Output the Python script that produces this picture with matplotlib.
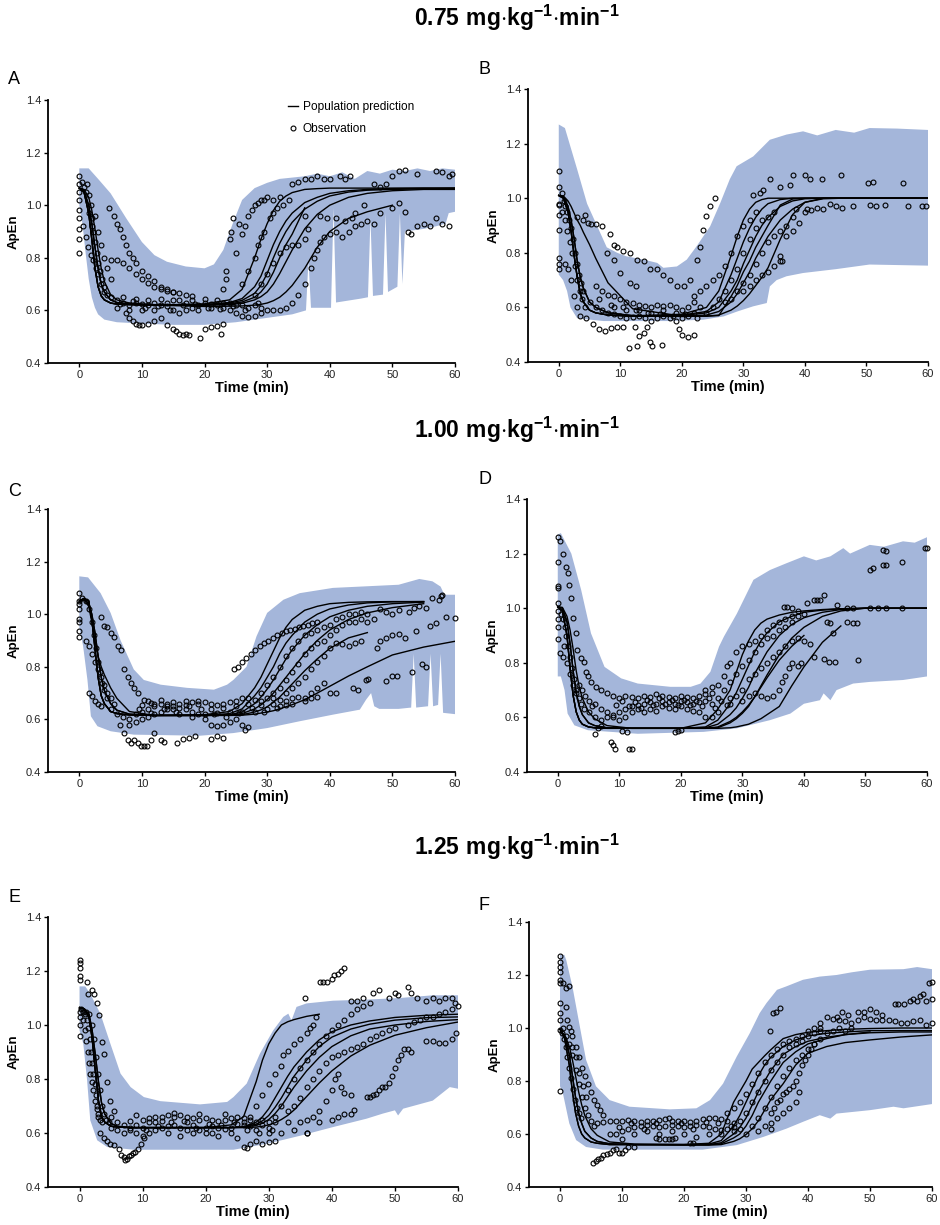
import numpy as np
import matplotlib.pyplot as plt
from matplotlib.lines import Line2D

plt.rcParams['font.family'] = ['Liberation Sans', 'DejaVu Sans']
plt.rcParams['mathtext.fontset'] = 'custom'
plt.rcParams['mathtext.rm'] = 'Liberation Sans'
plt.rcParams['mathtext.bf'] = 'Liberation Sans:bold'

nan = np.nan

# time grids for the population prediction curves
curve_t_drop = [0, 0.75, 1.5, 2, 2.5, 3, 3.5, 4, 5, 6, 8, 12]
curve_t_rise = [20, 24, 26, 28, 29, 30, 31, 32, 33, 34, 36, 38, 40, 43, 46, 50, 55, 60]

dose_titles = ['0.75', '1.00', '1.25']

# ---------------- panel A ----------------
a_hi_t = [0, 1.5, 3, 5, 7.5, 10, 12, 14, 17, 20, 21.5, 23, 24.5, 26, 28, 30, 32, 34, 36, 38,
          40, 42, 44, 46, 48, 50, 52, 54, 56, 58, 60]
a_hi = [1.14, 1.14, 1.1, 1.045, 0.95, 0.86, 0.81, 0.785, 0.767, 0.76, 0.775, 0.83, 0.93, 1.02,
        1.065, 1.085, 1.1, 1.105, 1.11, 1.12, 1.11, 1.125, 1.1, 1.13, 1.12, 1.135, 1.13, 1.14,
        1.13, 1.14, 1.135]
a_lo_t = [0, 0.5, 1, 1.5, 2, 2.5, 3, 4, 6, 10, 15, 20, 25, 28, 31, 34, 36.2, 36.6, 37.0, 40.2,
          40.6, 41.0, 45, 46.1, 46.5, 46.9, 48.5, 48.9, 49.3, 50.8, 51.2, 51.6, 52.0, 55, 57,
          58.5, 59, 60]
a_lo = [1.0, 0.93, 0.82, 0.72, 0.65, 0.61, 0.585, 0.565, 0.555, 0.55, 0.545, 0.545, 0.555, 0.565,
        0.575, 0.585, 0.6, 0.79, 0.61, 0.61, 0.99, 0.63, 0.645, 0.65, 0.95, 0.655, 0.66, 0.97,
        0.67, 0.69, 0.97, 0.7, 0.9, 0.91, 0.92, 0.93, 0.97, 0.975]
a_drop_fast = [1.065, 1.05, 0.97, 0.87, 0.76, 0.69, 0.655, 0.64, 0.628, 0.624, 0.622, 0.62]
a_drop_med = [1.065, 1.055, 1.0, 0.93, 0.84, 0.76, 0.7, 0.67, 0.64, 0.63, 0.624, 0.62]
a_drop_slow = [1.065, 1.06, 1.03, 0.98, 0.91, 0.83, 0.76, 0.71, 0.66, 0.64, 0.628, 0.622]
a_rise = [
    [0.625, 0.64, 0.68, 0.8, 0.87, 0.93, 0.98, 1.015, 1.035, 1.048, 1.06, 1.063, 1.065, 1.065, 1.065, 1.065, 1.065, 1.065],
    [0.622, 0.63, 0.645, 0.69, 0.73, 0.79, 0.85, 0.9, 0.94, 0.97, 1.01, 1.03, 1.045, 1.055, 1.06, 1.063, 1.065, 1.065],
    [0.622, 0.628, 0.638, 0.665, 0.695, 0.74, 0.8, 0.855, 0.9, 0.935, 0.985, 1.015, 1.035, 1.05, 1.057, 1.06, 1.062, 1.064],
    [0.62, 0.625, 0.632, 0.65, 0.67, 0.7, 0.745, 0.8, 0.85, 0.89, 0.99, nan, nan, nan, nan, nan, nan, nan],
    [0.62, 0.622, 0.627, 0.64, 0.652, 0.67, 0.7, 0.74, 0.785, 0.83, 0.91, 0.965, 1.0, 1.03, 1.045, 1.055, 1.06, 1.06],
    [0.615, 0.616, 0.617, 0.62, 0.623, 0.628, 0.637, 0.65, 0.67, 0.695, 0.76, 0.84, 0.9, 0.95, 0.975, 1.0, nan, nan],
]
a_drops = [a_drop_fast, a_drop_fast, a_drop_med, a_drop_med, a_drop_slow, a_drop_fast]
a_obs = [
    (0, 1.11), (0, 1.08), (0, 1.05), (0, 1.02), (0, 0.98), (0, 0.95), (0, 0.91), (0, 0.87), (0, 0.82),
    (0.5, 1.09), (0.8, 1.07), (1, 1.05), (1.2, 1.08), (1.5, 1.04), (1.8, 1.0), (2, 0.95), (2.2, 0.9),
    (2.5, 0.86), (2.8, 0.82), (3, 0.78), (3.3, 0.75), (3.6, 0.72), (4, 0.69),
    (0.6, 0.92), (1, 0.88), (1.4, 0.84), (1.8, 0.81), (2.2, 0.79), (2.6, 0.76), (3, 0.74), (3.5, 0.7),
    (4, 0.67), (4.5, 0.66), (1.5, 0.97), (2, 0.92), (2.5, 0.96), (3, 0.9), (3.5, 0.85), (4, 0.8),
    (4.5, 0.76), (5, 0.72),
    (4.8, 0.99), (5.5, 0.96), (6, 0.93), (6.5, 0.91), (7, 0.88), (7.5, 0.85), (8, 0.82), (8.5, 0.8),
    (9, 0.78), (10, 0.75), (11, 0.73), (12, 0.71), (13, 0.69), (14, 0.68), (15, 0.67), (16, 0.665),
    (17, 0.66), (18, 0.655),
    (5, 0.79), (6, 0.79), (7, 0.78), (8, 0.76), (9, 0.74), (10, 0.72), (11, 0.705), (12, 0.69),
    (13, 0.68), (14, 0.675), (15, 0.67),
    (7.5, 0.59), (8, 0.57), (8.5, 0.56), (9, 0.55), (9.5, 0.545), (10, 0.545), (11, 0.55), (12, 0.56),
    (13, 0.57), (14, 0.545), (15, 0.53), (15.5, 0.52), (16, 0.51), (16.5, 0.505), (17, 0.51),
    (17.5, 0.505), (19.2, 0.495), (20, 0.53), (21, 0.535), (22, 0.54), (22.7, 0.51), (23, 0.55),
    (5, 0.65), (6, 0.64), (7, 0.63), (8, 0.62), (9, 0.63), (10, 0.625), (11, 0.62), (12, 0.63),
    (13, 0.62), (14, 0.615), (15, 0.6), (16, 0.59), (17, 0.6), (18, 0.61), (19, 0.62), (20, 0.63),
    (21, 0.625), (22, 0.62), (23, 0.61), (24, 0.6), (25, 0.59), (26, 0.58), (27, 0.575), (28, 0.58),
    (29, 0.59), (30, 0.6), (31, 0.6),
    (6, 0.61), (8, 0.6), (10, 0.6), (12, 0.6), (14, 0.63), (16, 0.64), (18, 0.64), (20, 0.645),
    (22, 0.64), (24, 0.63), (26, 0.62), (28, 0.62),
    (7, 0.65), (9, 0.645), (11, 0.64), (13, 0.645), (15, 0.64), (17, 0.63), (19, 0.6), (21, 0.61),
    (23, 0.63), (25, 0.62), (27, 0.61), (29, 0.61),
    (6.5, 0.625), (8.5, 0.635), (10.5, 0.61), (12.5, 0.615), (14.5, 0.6), (16.5, 0.62), (18.5, 0.625),
    (20.5, 0.61), (22.5, 0.605), (24.5, 0.615), (26.5, 0.6), (28.5, 0.63),
    (23, 0.68), (23.5, 0.72), (23.5, 0.75), (24, 0.87), (24.2, 0.9), (24.5, 0.95), (25, 0.82),
    (25.5, 0.93), (26, 0.89), (26.5, 0.92), (27, 0.96), (27.5, 0.98), (28, 1.0), (28.5, 1.01),
    (29, 1.02), (29.5, 1.02), (30, 1.03), (31, 1.02), (32, 1.03),
    (26, 0.7), (27, 0.75), (28, 0.8), (28.5, 0.85), (29, 0.88), (29.5, 0.9), (30.5, 0.95), (31, 0.97),
    (31.5, 0.99), (32.5, 1.0), (33.5, 1.02),
    (28, 0.66), (29, 0.7), (30, 0.74), (31, 0.78), (32, 0.82), (33, 0.84), (34, 0.85), (35, 0.85),
    (36, 0.87), (36.5, 0.91), (36, 0.96),
    (32, 0.6), (33, 0.61), (34, 0.63), (35, 0.66), (36, 0.7), (37, 0.76), (37.5, 0.8), (38, 0.83),
    (38.5, 0.86), (39, 0.88), (40, 0.89), (41, 0.9), (42, 0.88), (43, 0.9), (44, 0.92), (45, 0.93),
    (46, 0.94), (47, 0.93),
    (34, 1.08), (35, 1.09), (36, 1.1), (37, 1.1), (38, 1.11), (39, 1.1), (40, 1.1), (41.7, 1.11),
    (42.5, 1.1), (43.3, 1.11), (47, 1.08), (48, 1.07), (49, 1.08), (50, 1.11), (51, 1.13),
    (52, 1.135), (54, 1.12), (57, 1.13), (58, 1.125), (59, 1.11), (59.5, 1.12),
    (38.5, 0.96), (39.5, 0.95), (41, 0.95), (42.5, 0.94), (43.5, 0.95), (44, 0.97), (45.5, 1.0),
    (48, 0.97), (50, 0.99), (51, 1.01), (52, 0.975),
    (52.5, 0.9), (53, 0.89), (54, 0.92), (55, 0.93), (56, 0.92), (57, 0.95), (58, 0.93), (59, 0.92),
]

# ---------------- panel B ----------------
b_hi_t = [0, 1, 3, 4.6, 6.2, 7.8, 9.5, 11, 13.8, 16, 17, 19.2, 20.8, 22.4, 24.6, 26.2, 27.8, 28.9,
          31.6, 34.3, 37, 39.7, 42, 45, 48, 50.5, 55, 60]
b_hi = [1.27, 1.257, 1.105, 0.98, 0.9, 0.82, 0.8, 0.787, 0.775, 0.763, 0.745, 0.75, 0.775, 0.824,
        0.897, 0.98, 1.07, 1.117, 1.153, 1.214, 1.233, 1.245, 1.23, 1.25, 1.24, 1.257, 1.255, 1.25]
b_lo_t = [0, 0.7, 1.35, 1.9, 3, 7.3, 18, 23.5, 26.8, 29, 31.6, 33.8, 34.3, 35.4, 37, 39.7, 45,
          50.5, 60]
b_lo = [0.72, 0.7, 0.66, 0.6, 0.56, 0.55, 0.55, 0.555, 0.567, 0.585, 0.604, 0.616, 0.677, 0.7,
        0.714, 0.726, 0.74, 0.757, 0.753]
b_drop_fast = [1.01, 1.0, 0.95, 0.88, 0.79, 0.71, 0.65, 0.62, 0.59, 0.58, 0.572, 0.568]
b_drop_med = [1.01, 1.005, 0.97, 0.92, 0.85, 0.77, 0.71, 0.67, 0.62, 0.6, 0.58, 0.57]
b_drop_lin = [1.01, 1.008, 0.99, 0.97, 0.945, 0.92, 0.9, 0.875, 0.83, 0.78, 0.69, 0.595]
b_rise = [
    [0.575, 0.6, 0.66, 0.79, 0.86, 0.92, 0.96, 0.985, 0.995, 1.0, 1.0, 1.0, 1.0, 1.0, 1.0, 1.0, 1.0, 1.0],
    [0.572, 0.585, 0.62, 0.72, 0.78, 0.84, 0.89, 0.93, 0.96, 0.98, 0.995, 1.0, 1.0, 1.0, 1.0, 1.0, 1.0, 1.0],
    [0.57, 0.58, 0.6, 0.66, 0.7, 0.76, 0.81, 0.86, 0.9, 0.93, 0.97, 0.99, 0.998, 1.0, 1.0, 1.0, 1.0, 1.0],
    [0.568, 0.572, 0.585, 0.62, 0.65, 0.69, 0.73, 0.78, 0.82, 0.86, 0.92, 0.96, 0.985, 0.998, 1.0, 1.0, 1.0, 1.0],
    [0.567, 0.568, 0.572, 0.59, 0.605, 0.625, 0.65, 0.68, 0.71, 0.745, 0.85, 0.94, 0.985, 1.0, 1.0, 1.0, 1.0, 1.0],
    [0.567, 0.568, 0.57, 0.64, 0.68, 0.73, 0.77, 0.82, 0.86, 0.9, 0.975, 0.997, 1.0, 1.0, 1.0, 1.0, 1.0, 1.0],
]
b_drops = [b_drop_fast, b_drop_med, b_drop_fast, b_drop_lin, b_drop_med, b_drop_fast]
b_obs = [
    (0, 1.1), (0, 1.04), (0, 0.98), (0, 0.975), (0, 0.94), (0, 0.885), (0, 0.78), (0, 0.76), (0, 0.74),
    (0.5, 1.02), (0.8, 0.99), (1, 0.97), (1.3, 0.95), (1.6, 0.92), (2, 0.89), (2.3, 0.85), (2.6, 0.8),
    (3, 0.76), (3.3, 0.72), (3.6, 0.69), (4, 0.66),
    (0.6, 0.95), (1, 0.92), (1.4, 0.88), (1.8, 0.84), (2.2, 0.8), (2.6, 0.75), (3, 0.7), (3.4, 0.66),
    (3.8, 0.63), (4.2, 0.6),
    (1, 0.76), (1.5, 0.74), (2, 0.7), (2.5, 0.64), (3, 0.6), (3.5, 0.57), (4.5, 0.56), (5.5, 0.54),
    (6.5, 0.52), (7.5, 0.515), (8.5, 0.525), (9.5, 0.53), (10.5, 0.53),
    (3, 0.93), (4, 0.92), (4.3, 0.94), (4.8, 0.91), (5.2, 0.905), (6, 0.905), (7, 0.897), (8.4, 0.87),
    (8.9, 0.83), (9.5, 0.82), (10.5, 0.805), (11.6, 0.8), (12.7, 0.775), (13.8, 0.77), (14.9, 0.74),
    (16, 0.74), (17, 0.72), (18.1, 0.7), (19.2, 0.68), (20.3, 0.677), (21.4, 0.7), (22.4, 0.775),
    (23, 0.82), (23.5, 0.885), (24, 0.935), (24.6, 0.97), (25.4, 1.0),
    (7.8, 0.8), (8.9, 0.775), (10, 0.726), (11.6, 0.69), (12.5, 0.68),
    (11.4, 0.45), (12.4, 0.53), (12.7, 0.457), (13, 0.494), (13.8, 0.505), (14.3, 0.53), (14.9, 0.475),
    (15.2, 0.457), (16.8, 0.463),
    (5, 0.62), (6, 0.6), (7, 0.59), (8, 0.58), (9, 0.575), (10, 0.57), (11, 0.56), (12, 0.565),
    (13, 0.57), (14, 0.56), (15, 0.55), (16, 0.56), (17, 0.57), (18, 0.56), (19, 0.55), (20, 0.56),
    (21, 0.57), (22, 0.58), (23, 0.6),
    (6, 0.68), (7, 0.66), (8, 0.645), (9, 0.64), (10, 0.63), (11, 0.62), (12, 0.615), (13, 0.61),
    (14, 0.605), (15, 0.6), (16, 0.61), (17, 0.605), (18, 0.61), (19, 0.6), (20, 0.59), (21, 0.6),
    (22, 0.62),
    (9, 0.6), (11, 0.59), (13, 0.59), (15, 0.58), (17, 0.59), (19, 0.58), (20, 0.5), (21, 0.49),
    (19.5, 0.52), (22, 0.5),
    (6.5, 0.63), (8.5, 0.61), (10.5, 0.6), (12.5, 0.59), (14.5, 0.58), (16.5, 0.575), (18.5, 0.57),
    (20.5, 0.575), (22.5, 0.56),
    (22, 0.64), (23, 0.66), (24, 0.68), (25, 0.7), (26, 0.72), (27, 0.75), (28, 0.8), (29, 0.86),
    (30, 0.9), (31, 0.92), (32, 0.95),
    (24, 0.58), (25, 0.6), (26, 0.63), (27, 0.66), (28, 0.7), (29, 0.74), (30, 0.8), (31, 0.85),
    (32, 0.89), (33, 0.92), (34, 0.93), (35, 0.95),
    (27, 0.62), (28, 0.63), (29, 0.66), (30, 0.69), (31, 0.72), (32, 0.76), (33, 0.8), (34, 0.84),
    (35, 0.86), (36, 0.88), (37, 0.9), (38, 0.93), (38.6, 0.96),
    (30, 0.66), (31, 0.68), (32, 0.7), (33, 0.72), (34, 0.73), (35, 0.75), (36, 0.77), (37, 0.86),
    (38, 0.88), (39, 0.91), (40, 0.95),
    (35.9, 0.787), (36.2, 0.77),
    (31.6, 1.013), (32.7, 1.02), (33.2, 1.03), (34.3, 1.07), (35.9, 1.04), (37.6, 1.05), (38.1, 1.086),
    (40, 1.086), (40.8, 1.07), (42.7, 1.07), (45.9, 1.086), (50.3, 1.055), (51.1, 1.06), (56, 1.055),
    (40.3, 0.96), (41, 0.955), (42, 0.965), (43, 0.96), (44, 0.98), (45, 0.97), (46, 0.965),
    (47.8, 0.97), (50.5, 0.975), (51.5, 0.97), (53, 0.975), (56.8, 0.97), (59, 0.97), (59.7, 0.97),
]

# ---------------- panel C ----------------
c_hi_t = [0, 1.4, 3.4, 5, 6.6, 8.7, 10.3, 13, 17.2, 21.5, 23.6, 24.6, 26.7, 28.3, 30, 32.6, 35.2,
          40.5, 45.8, 51, 54.3, 56.4, 57.7, 58.3, 60]
c_hi = [1.144, 1.14, 1.08, 1.005, 0.9, 0.79, 0.75, 0.732, 0.72, 0.713, 0.732, 0.75, 0.8, 0.916,
        1.005, 1.055, 1.08, 1.1, 1.106, 1.112, 1.134, 1.125, 1.105, 1.074, 1.074]
c_lo_t = [0, 0.6, 1.3, 1.85, 2.9, 5, 8.7, 19.3, 24.6, 30, 35.2, 40.5, 44.8, 45.8, 46.6, 47.1, 47.9,
          51, 53.0, 53.4, 53.8, 55.7, 56.1, 56.5, 57.3, 57.7, 58.1, 60]
c_lo = [0.95, 0.88, 0.75, 0.612, 0.574, 0.555, 0.542, 0.538, 0.548, 0.567, 0.593, 0.618, 0.637,
        0.675, 0.7, 0.65, 0.64, 0.64, 0.645, 0.85, 0.645, 0.65, 0.85, 0.65, 0.655, 0.85, 0.625, 0.62]
c_drop_fast = [1.05, 1.06, 1.05, 0.98, 0.87, 0.76, 0.69, 0.66, 0.63, 0.622, 0.617, 0.615]
c_drop_med = [1.045, 1.058, 1.04, 1.0, 0.93, 0.84, 0.76, 0.71, 0.66, 0.635, 0.62, 0.615]
c_drop_lin = [1.05, 1.055, 1.03, 0.97, 0.9, 0.84, 0.8, 0.77, 0.72, 0.68, 0.63, 0.615]
c_rise = [
    [0.618, 0.63, 0.66, 0.72, 0.76, 0.81, 0.86, 0.91, 0.95, 0.98, 1.015, 1.03, 1.04, 1.045, 1.047, 1.048, 1.048, nan],
    [0.616, 0.622, 0.64, 0.69, 0.72, 0.76, 0.8, 0.85, 0.89, 0.92, 0.97, 1.0, 1.02, 1.035, 1.043, 1.047, 1.048, nan],
    [0.615, 0.618, 0.628, 0.66, 0.685, 0.715, 0.75, 0.79, 0.83, 0.865, 0.92, 0.96, 0.99, 1.015, 1.03, 1.04, 1.046, nan],
    [0.615, 0.617, 0.622, 0.64, 0.655, 0.675, 0.7, 0.73, 0.76, 0.79, 0.85, 0.9, 0.94, 0.98, 1.005, 1.025, 1.04, nan],
    [0.615, 0.616, 0.618, 0.628, 0.636, 0.648, 0.665, 0.685, 0.71, 0.735, 0.785, 0.83, 0.87, 0.91, 0.93, nan, nan, nan],
    [0.615, 0.615, 0.616, 0.62, 0.624, 0.628, 0.633, 0.64, 0.648, 0.656, 0.675, 0.7, 0.726, 0.765, 0.8, 0.845, 0.875, 0.897],
]
c_drops = [c_drop_fast, c_drop_med, c_drop_fast, c_drop_lin, c_drop_med, c_drop_fast]
c_obs = [
    (0, 1.08), (0, 1.05), (0, 1.04), (0, 1.02), (0, 0.98), (0, 0.97), (0, 0.935), (0, 0.915),
    (0.5, 1.06), (1, 1.05), (1.5, 1.02), (2, 0.97), (2.3, 0.92), (2.6, 0.87), (3, 0.82), (3.3, 0.78),
    (3.6, 0.74), (4, 0.71), (4.5, 0.68),
    (1, 0.9), (1.5, 0.88), (2, 0.85), (2.5, 0.82), (3, 0.79), (3.5, 0.76), (4, 0.73), (4.5, 0.7),
    (5, 0.68), (5.5, 0.66), (1.5, 0.7), (2, 0.69), (2.5, 0.67), (3, 0.66), (3.5, 0.65),
    (3.4, 0.99), (4, 0.955), (4.5, 0.95), (5, 0.93), (5.6, 0.915), (6.1, 0.88), (6.6, 0.865),
    (7.2, 0.79), (7.7, 0.76), (8.2, 0.74), (8.7, 0.72), (9.3, 0.7), (10.3, 0.675), (11.4, 0.663),
    (6.5, 0.58), (7.2, 0.55), (7.7, 0.52), (8.2, 0.51), (8.7, 0.52), (9.3, 0.51), (9.8, 0.5),
    (10.3, 0.5), (10.8, 0.5), (11.4, 0.52), (12, 0.55),
    (13, 0.52), (13.5, 0.515), (15.6, 0.51), (16.5, 0.525), (17.5, 0.53), (18.5, 0.535), (21, 0.525),
    (22, 0.535), (23, 0.53),
    (5, 0.64), (6, 0.62), (7, 0.61), (8, 0.6), (9, 0.62), (10, 0.63), (11, 0.64), (12, 0.65),
    (13, 0.66), (14, 0.66), (15, 0.665), (16, 0.66), (17, 0.67), (18, 0.665), (19, 0.66), (20, 0.665),
    (21, 0.66), (22, 0.655), (23, 0.66), (24, 0.665), (25, 0.67), (26, 0.68), (27, 0.68), (28, 0.675),
    (29, 0.67), (30, 0.68), (31, 0.68), (32, 0.675), (33, 0.67), (34, 0.68), (35, 0.685), (36, 0.68),
    (37, 0.68), (38, 0.685),
    (8, 0.58), (9, 0.59), (10, 0.6), (11, 0.61), (12, 0.62), (13, 0.63), (14, 0.64), (15, 0.64),
    (16, 0.645), (17, 0.64), (18, 0.63), (19, 0.62), (20, 0.6), (21, 0.58), (22, 0.575), (23, 0.58),
    (24, 0.59), (25, 0.6), (26, 0.58), (26.5, 0.56), (27, 0.57),
    (10, 0.655), (12, 0.66), (14, 0.65), (16, 0.62), (18, 0.61), (20, 0.62), (22, 0.625), (24, 0.63),
    (26, 0.63), (28, 0.63), (30, 0.64), (32, 0.65), (34, 0.66), (36, 0.67),
    (11, 0.67), (13, 0.675), (15, 0.65), (17, 0.655), (19, 0.67), (21, 0.64), (23, 0.645), (25, 0.65),
    (27, 0.66), (29, 0.655), (31, 0.66), (33, 0.655),
    (9.5, 0.64), (11.5, 0.625), (13.5, 0.64), (15.5, 0.63), (17.5, 0.65), (19.5, 0.64), (21.5, 0.62),
    (23.5, 0.61), (25.5, 0.625), (27.5, 0.645), (29.5, 0.63), (31.5, 0.645),
    (24.7, 0.79), (25.3, 0.8), (26, 0.82), (26.7, 0.835), (27.4, 0.85), (28.1, 0.865), (28.8, 0.88),
    (29.5, 0.89), (30.2, 0.9), (30.9, 0.91), (31.6, 0.92), (32.3, 0.93), (33, 0.935), (33.7, 0.94),
    (34.4, 0.945), (35.1, 0.95), (35.8, 0.955), (36.5, 0.96), (37.2, 0.965), (38, 0.97),
    (29, 0.7), (30, 0.73), (31, 0.76), (32, 0.8), (33, 0.84), (34, 0.87), (35, 0.9), (36, 0.92),
    (37, 0.93), (38, 0.94), (39, 0.95), (40, 0.96), (41, 0.98), (42, 0.99), (43, 1.0),
    (31, 0.7), (32, 0.72), (33, 0.75), (34, 0.78), (35, 0.81), (36, 0.85), (37, 0.87), (38, 0.89),
    (39, 0.9), (40, 0.92), (41, 0.94), (42, 0.96), (43, 0.97), (44, 0.97), (45, 0.98), (46, 0.97),
    (33, 0.7), (34, 0.72), (35, 0.74), (36, 0.76), (37, 0.79), (38, 0.82), (39, 0.84), (40, 0.87),
    (41, 0.89), (42, 0.885), (43, 0.88), (44, 0.89), (45, 0.9),
    (37, 0.7), (38, 0.72), (39, 0.74), (40, 0.7), (41, 0.7), (43.7, 0.72), (44.5, 0.713), (45.8, 0.75),
    (46.1, 0.753), (49, 0.745), (50, 0.764), (50.8, 0.764), (53.2, 0.78), (54.8, 0.81), (55.4, 0.8),
    (44, 1.0), (45, 1.01), (46, 1.0), (47, 0.98), (47.5, 0.87), (48, 0.9), (49, 0.91), (50, 0.92),
    (51, 0.925), (52, 0.91), (53.8, 0.935), (56, 0.955), (57, 0.965), (58.5, 0.99), (60, 0.985),
    (48, 1.02), (49, 1.01), (50, 1.0), (51, 1.017), (52.7, 1.01), (53.5, 1.025), (54.3, 1.03),
    (55.4, 1.025), (56.4, 1.06), (57.5, 1.055), (57.7, 1.07), (58, 1.074),
]

# ---------------- panel D ----------------
d_hi_t = [0, 0.5, 2.2, 3.8, 5.4, 7.6, 10.3, 13, 18.3, 21.6, 23.2, 24.8, 26.2, 27, 29.1, 31.8, 34.5,
          37.2, 40, 42, 44.3, 46.4, 47.5, 50.7, 53, 56.1, 58, 60]
d_hi = [1.27, 1.275, 1.2, 1.067, 0.908, 0.785, 0.743, 0.724, 0.712, 0.712, 0.724, 0.767, 0.859,
        0.896, 0.98, 1.104, 1.14, 1.165, 1.19, 1.175, 1.19, 1.22, 1.2, 1.232, 1.225, 1.245, 1.24, 1.26]
d_lo_t = [0, 0.5, 1.1, 1.6, 2.7, 4.9, 13, 23.7, 29.1, 34.5, 37.8, 40, 42.6, 43.2, 44.3, 45.3, 48,
          50.7, 56.1, 60]
d_lo = [0.75, 0.75, 0.7, 0.614, 0.571, 0.553, 0.54, 0.547, 0.56, 0.59, 0.614, 0.65, 0.663, 0.688,
        0.663, 0.7, 0.724, 0.73, 0.737, 0.75]
d_drop_fast = [1.005, 0.99, 0.9, 0.78, 0.68, 0.62, 0.59, 0.575, 0.565, 0.562, 0.56, 0.56]
d_drop_med = [1.005, 1.0, 0.95, 0.87, 0.77, 0.69, 0.64, 0.61, 0.58, 0.57, 0.562, 0.56]
d_drop_slow = [1.005, 1.003, 0.97, 0.92, 0.85, 0.77, 0.71, 0.67, 0.62, 0.595, 0.57, 0.56]
d_rise = [
    [0.56, 0.58, 0.63, 0.7, 0.765, 0.83, 0.88, 0.92, 0.945, 0.96, 0.975, 0.985, 0.99, 0.995, 0.998, 1.0, 1.0, 1.0],
    [0.56, 0.565, 0.59, 0.65, 0.69, 0.74, 0.79, 0.84, 0.88, 0.91, 0.95, 0.97, 0.985, 0.993, 0.998, 1.0, 1.0, 1.0],
    [0.56, 0.562, 0.575, 0.61, 0.635, 0.67, 0.71, 0.76, 0.8, 0.84, 0.9, 0.94, 0.965, 0.985, 0.995, 1.0, 1.0, 1.0],
    [0.56, 0.56, 0.565, 0.585, 0.6, 0.62, 0.645, 0.675, 0.71, 0.745, 0.81, 0.86, 0.9, nan, nan, nan, nan, nan],
    [0.56, 0.56, 0.56, 0.562, 0.565, 0.57, 0.575, 0.585, 0.595, 0.61, 0.64, 0.715, 0.785, 0.875, 0.935, nan, nan, nan],
    [0.56, 0.56, 0.562, 0.58, 0.595, 0.615, 0.64, 0.675, 0.715, 0.755, 0.83, 0.89, 0.93, 0.97, 0.99, 1.0, 1.0, 1.0],
]
d_drops = [d_drop_fast, d_drop_med, d_drop_fast, d_drop_slow, d_drop_med, d_drop_fast]
d_obs = [
    (0, 1.26), (0, 1.17), (0, 1.08), (0, 1.073), (0, 1.02), (0, 0.99), (0, 0.96), (0, 0.93), (0, 0.886),
    (0.3, 1.245), (0.8, 1.2), (1.35, 1.15), (1.6, 1.13), (1.9, 1.085), (2.2, 1.037), (2.4, 0.963),
    (3, 0.908), (3.2, 0.847), (3.8, 0.816), (4.3, 0.804), (4.6, 0.767), (4.9, 0.75), (5.4, 0.73),
    (6.2, 0.712), (0.3, 0.835), (0.8, 0.82),
    (0.5, 0.98), (0.8, 0.96), (1.1, 0.93), (1.4, 0.9), (1.7, 0.86), (2, 0.82), (2.3, 0.78), (2.6, 0.74),
    (3, 0.7), (3.4, 0.67), (3.8, 0.65), (4.2, 0.63),
    (1, 0.86), (1.5, 0.8), (2, 0.76), (2.5, 0.72), (3, 0.69), (3.5, 0.72), (4, 0.7), (4.5, 0.68),
    (5, 0.66), (5.5, 0.64),
    (6, 0.54), (6.5, 0.56), (7, 0.57), (8.6, 0.51), (9, 0.5), (9.3, 0.485), (10.5, 0.55), (11.3, 0.545),
    (11.6, 0.484), (12, 0.484), (19, 0.545), (19.5, 0.55), (20, 0.555),
    (5, 0.62), (6, 0.6), (7, 0.59), (8, 0.6), (9, 0.61), (10, 0.62), (11, 0.63), (12, 0.64),
    (13, 0.645), (14, 0.65), (15, 0.655), (16, 0.65), (17, 0.66), (18, 0.655), (19, 0.65), (20, 0.66),
    (21, 0.655), (22, 0.65), (23, 0.655), (24, 0.66), (25, 0.65),
    (7, 0.7), (8, 0.69), (9, 0.68), (10, 0.67), (11, 0.68), (12, 0.675), (13, 0.67), (14, 0.68),
    (15, 0.675), (16, 0.685), (17, 0.68), (18, 0.675), (19, 0.67), (20, 0.68), (21, 0.675), (22, 0.67),
    (23, 0.68), (24, 0.685), (25, 0.69),
    (6, 0.65), (7, 0.63), (8, 0.62), (9, 0.6), (10, 0.59), (11, 0.6), (12, 0.62), (13, 0.63),
    (14, 0.62), (15, 0.63), (16, 0.625), (17, 0.64), (18, 0.635), (19, 0.63), (20, 0.64), (21, 0.63),
    (22, 0.625), (23, 0.62), (24, 0.6), (25, 0.6), (26, 0.62),
    (10.5, 0.66), (12.5, 0.655), (14.5, 0.665), (16.5, 0.67), (18.5, 0.665), (20.5, 0.665),
    (22.5, 0.66), (24.5, 0.67), (26.5, 0.66), (28, 0.67),
    (9.5, 0.645), (11.5, 0.64), (13.5, 0.635), (15.5, 0.645), (17.5, 0.65), (19.5, 0.645),
    (21.5, 0.645), (23.5, 0.64), (25.5, 0.635), (27.5, 0.645),
    (24, 0.7), (25, 0.71), (26, 0.72), (27, 0.75), (27.5, 0.79), (28, 0.8), (29, 0.84), (30, 0.86),
    (31, 0.87), (32, 0.88), (33, 0.9), (34, 0.92), (35, 0.94), (36, 0.95), (37, 0.96), (38, 0.97),
    (26, 0.67), (27, 0.7), (28, 0.73), (29, 0.76), (30, 0.79), (31, 0.81), (32, 0.84), (33, 0.87),
    (34, 0.89), (35, 0.9), (36, 0.92), (37, 0.93), (38, 0.95), (39, 0.97), (40, 0.98),
    (28, 0.65), (29, 0.68), (30, 0.7), (31, 0.74), (32, 0.76), (33, 0.78), (34, 0.8), (35, 0.82),
    (36, 0.84), (37, 0.86), (38, 0.88), (39, 0.89), (40, 0.88), (41, 0.87),
    (30, 0.66), (31, 0.68), (32, 0.69), (33, 0.68), (34, 0.67), (35, 0.68), (36, 0.7), (36.5, 0.73),
    (37, 0.75), (37.5, 0.78), (38, 0.8), (39, 0.79), (39.5, 0.8),
    (41.6, 0.82), (43.2, 0.815), (44, 0.803), (45, 0.803), (48.8, 0.81),
    (36.7, 1.006), (37.2, 1.006), (38, 1.0), (39, 0.99), (40.5, 1.018), (41.6, 1.03), (42.2, 1.03),
    (42.6, 1.03), (43.2, 1.048),
    (43.7, 0.95), (44.3, 0.945), (44.8, 0.908), (47, 0.95), (48, 0.945), (48.6, 0.945),
    (45.3, 1.01), (47, 1.0), (48, 1.0), (50.7, 1.0), (52, 1.0), (53.4, 1.0), (55.9, 1.002),
    (50.7, 1.14), (51.3, 1.147), (52.9, 1.214), (53.4, 1.208), (52.9, 1.16), (53.4, 1.16),
    (55.9, 1.17), (59.7, 1.22), (60, 1.22),
]

# ---------------- panel E ----------------
e_hi_t = [0, 0.9, 1.7, 3.3, 4.9, 6.5, 8.1, 10.2, 12.8, 19.1, 23.4, 24.4, 26.5, 28.6, 30.7, 32.3,
          33.1, 33.6, 34.4, 36, 40.2, 45.5, 50.8, 56, 60]
e_hi = [1.143, 1.143, 1.116, 1.042, 0.93, 0.82, 0.77, 0.733, 0.718, 0.706, 0.715, 0.733, 0.783,
        0.894, 0.98, 1.03, 1.042, 1.017, 1.067, 1.08, 1.09, 1.094, 1.1, 1.11, 1.11]
e_lo_t = [0, 0.6, 1.2, 1.7, 2.8, 4.4, 8.6, 24.4, 29.7, 35, 40.2, 45.5, 48.1, 50, 50.5, 51.3, 56,
          58.7, 60]
e_lo = [0.98, 0.93, 0.795, 0.647, 0.573, 0.548, 0.538, 0.538, 0.56, 0.59, 0.622, 0.653, 0.672,
        0.684, 0.665, 0.69, 0.72, 0.77, 0.764]
e_drop_fast = [1.065, 1.06, 1.03, 0.95, 0.83, 0.72, 0.66, 0.64, 0.625, 0.622, 0.62, 0.62]
e_drop_med = [1.06, 1.06, 1.04, 0.98, 0.89, 0.79, 0.71, 0.67, 0.635, 0.625, 0.62, 0.62]
e_rise = [
    [0.62, 0.63, 0.66, 0.79, 0.87, 0.93, 0.97, 1.0, 1.012, 1.02, 1.032, 1.04, nan, nan, nan, nan, nan, nan],
    [0.62, 0.62, 0.623, 0.64, 0.66, 0.69, 0.73, 0.77, 0.81, 0.845, 0.9, 0.945, 0.975, 1.0, 1.015, 1.028, 1.036, 1.04],
    [0.62, 0.62, 0.622, 0.633, 0.645, 0.665, 0.695, 0.73, 0.77, 0.81, 0.87, 0.92, 0.955, 0.985, 1.003, 1.018, 1.027, 1.03],
    [0.62, 0.62, 0.621, 0.628, 0.636, 0.65, 0.672, 0.7, 0.735, 0.77, 0.83, 0.88, 0.92, 0.96, 0.985, 1.0, 1.013, 1.02],
    [0.62, 0.62, 0.62, 0.622, 0.625, 0.63, 0.638, 0.65, 0.665, 0.685, 0.735, 0.785, 0.83, 0.885, 0.925, 0.962, 0.99, 1.011],
]
e_drops = [e_drop_fast, e_drop_med, e_drop_fast, e_drop_med, e_drop_fast]
e_obs = [
    (0, 1.24), (0, 1.23), (0, 1.212), (0, 1.18), (0, 1.165), (0, 1.05), (0, 1.03), (0, 1.0), (0, 0.96),
    (1.2, 1.16), (1.3, 1.116), (2, 1.128), (2.3, 1.116), (2.8, 1.08), (3.1, 1.036), (3.6, 0.937),
    (3.8, 0.894), (4.4, 0.79), (4.9, 0.72),
    (0.3, 1.06), (0.6, 1.05), (0.9, 1.04), (1.2, 1.02), (1.4, 0.99), (1.6, 0.95), (1.8, 0.9), (2, 0.86),
    (2.2, 0.82), (2.4, 0.78), (2.6, 0.74), (2.8, 0.7), (3, 0.67), (3.2, 0.65),
    (0.5, 1.02), (0.8, 0.98), (1, 0.94), (1.3, 0.9), (1.5, 0.86), (1.7, 0.82), (1.9, 0.79), (2.1, 0.76),
    (2.4, 0.72), (2.7, 0.69), (3, 0.66), (3.5, 0.64),
    (1, 1.05), (1.5, 1.04), (2, 1.0), (2.3, 0.95), (2.6, 0.88), (2.9, 0.82), (3.2, 0.76), (3.5, 0.7),
    (3.8, 0.67), (4.2, 0.65), (4.6, 0.64), (5, 0.66), (5.5, 0.68),
    (3.3, 0.6), (3.8, 0.58), (4.4, 0.57), (4.9, 0.56), (5.5, 0.555), (6.2, 0.54), (6.6, 0.52), (7, 0.51),
    (7.2, 0.5), (7.5, 0.505), (7.8, 0.515), (8.1, 0.52), (8.4, 0.525), (8.8, 0.53), (9.3, 0.54),
    (9.8, 0.56), (10.2, 0.58),
    (5, 0.62), (6, 0.61), (7, 0.6), (8, 0.61), (9, 0.63), (10, 0.65), (11, 0.655), (12, 0.66),
    (13, 0.66), (14, 0.665), (15, 0.66), (16, 0.665), (17, 0.66), (18, 0.655), (19, 0.65), (20, 0.655),
    (21, 0.65), (22, 0.645), (23, 0.65), (24, 0.655), (25, 0.66), (26, 0.655), (27, 0.65), (28, 0.64),
    (29, 0.63), (30, 0.62),
    (6, 0.64), (7, 0.63), (8, 0.62), (9, 0.6), (10, 0.59), (11, 0.6), (12, 0.61), (13, 0.62),
    (14, 0.625), (15, 0.63), (16, 0.62), (17, 0.61), (18, 0.6), (19, 0.61), (20, 0.62), (21, 0.625),
    (22, 0.62), (23, 0.615), (24, 0.6), (25, 0.58), (26, 0.55), (26.5, 0.545), (27, 0.56), (28, 0.57),
    (29, 0.56), (30, 0.565), (31, 0.57),
    (8, 0.645), (10, 0.62), (12, 0.64), (14, 0.6), (16, 0.59), (18, 0.63), (20, 0.6), (22, 0.59),
    (24, 0.62), (26, 0.63), (28, 0.61), (30, 0.6), (32, 0.6), (34, 0.61), (36, 0.6),
    (9, 0.665), (11, 0.64), (13, 0.645), (15, 0.675), (17, 0.64), (19, 0.67), (21, 0.6), (23, 0.67),
    (25, 0.635), (27, 0.625), (29, 0.65), (31, 0.64), (33, 0.64),
    (10.5, 0.61), (12.5, 0.625), (14.5, 0.64), (16.5, 0.645), (18.5, 0.62), (20.5, 0.635),
    (22.5, 0.63), (24.5, 0.64), (26.5, 0.61), (28.5, 0.6), (30.5, 0.61),
    (26, 0.64), (27, 0.66), (28, 0.7), (29, 0.74), (30, 0.78), (31, 0.82), (32, 0.85), (32.3, 0.89),
    (33, 0.905), (34, 0.93), (35, 0.95), (36, 0.97), (36.5, 0.99), (37, 1.0), (37.5, 1.03),
    (30, 0.64), (31, 0.66), (32, 0.7), (33, 0.76), (34, 0.8), (35, 0.84), (36, 0.87), (37, 0.9),
    (38, 0.93), (39, 0.96), (40, 0.98), (41, 1.0), (42, 1.02), (43, 1.04), (44, 1.06), (45, 1.07),
    (46, 1.08),
    (33, 0.68), (34, 0.7), (35, 0.73), (36, 0.77), (37, 0.8), (38, 0.83), (39, 0.86), (40, 0.88),
    (41, 0.89), (42, 0.9), (43, 0.91), (44, 0.92), (45, 0.93), (46, 0.95), (47, 0.96), (48, 0.97),
    (49, 0.98), (50, 0.99),
    (35, 0.64), (36, 0.65), (37, 0.66), (38, 0.68), (39, 0.72), (40, 0.76), (40.5, 0.8), (41, 0.82),
    (41.5, 0.77), (42, 0.75), (43, 0.74),
    (36, 0.6), (38, 0.64), (40, 0.65), (41, 0.66), (42, 0.67), (43, 0.67), (43.5, 0.685),
    (45.5, 0.735), (46, 0.735), (46.5, 0.74), (47, 0.745), (47.5, 0.76), (48, 0.77), (48.5, 0.77),
    (49, 0.785), (49.5, 0.81), (50, 0.84), (50.5, 0.87), (51, 0.89), (51.5, 0.91), (52, 0.91),
    (52.5, 0.9),
    (35.7, 1.1), (38.1, 1.16), (38.6, 1.16), (39.2, 1.16), (40, 1.17), (40.3, 1.185), (41, 1.19),
    (41.5, 1.2), (42, 1.21),
    (43, 1.09), (44, 1.09), (45, 1.1), (46.5, 1.12), (47.5, 1.13), (49, 1.1), (50, 1.12), (50.5, 1.11),
    (52, 1.14), (52.5, 1.12), (53.5, 1.1), (55, 1.09), (56, 1.1), (57, 1.09), (58, 1.1), (59, 1.1),
    (59.5, 1.08),
    (52, 1.0), (53, 1.01), (54, 1.02), (55, 1.03), (56, 1.03), (57, 1.04), (58, 1.05), (59, 1.06),
    (60, 1.07),
    (55, 0.94), (56, 0.94), (57, 0.935), (58, 0.935), (59, 0.95), (59.7, 0.97),
]

# ---------------- panel F ----------------
f_hi_t = [0, 0.7, 1, 2, 3.1, 4.2, 5.8, 8, 11.2, 17.7, 22, 24.2, 26.3, 28.5, 30.6, 32.2, 33.3, 35,
          36.5, 39.2, 41.9, 44.6, 47, 50, 55.4, 57.6, 60]
f_hi = [1.276, 1.276, 1.257, 1.157, 1.018, 0.88, 0.78, 0.728, 0.703, 0.693, 0.697, 0.728, 0.79,
        0.892, 0.98, 1.056, 1.094, 1.144, 1.157, 1.182, 1.194, 1.2, 1.21, 1.22, 1.222, 1.23, 1.222]
f_lo_t = [0, 0.4, 0.7, 1.5, 2.6, 4.2, 6.9, 23, 28.5, 32.8, 36.5, 39.2, 41.9, 43.6, 44.6, 50, 53.8,
          55.4, 60]
f_lo = [0.78, 0.76, 0.728, 0.64, 0.577, 0.551, 0.541, 0.541, 0.558, 0.589, 0.62, 0.646, 0.671,
        0.658, 0.677, 0.69, 0.703, 0.697, 0.713]
f_drop_fast = [0.995, 0.96, 0.86, 0.76, 0.68, 0.63, 0.6, 0.585, 0.57, 0.565, 0.56, 0.56]
f_drop_med = [0.995, 0.97, 0.9, 0.82, 0.74, 0.68, 0.64, 0.61, 0.585, 0.572, 0.563, 0.56]
f_drop_slow = [0.985, 0.975, 0.93, 0.88, 0.82, 0.76, 0.71, 0.67, 0.62, 0.595, 0.57, 0.562]
f_rise = [
    [0.56, 0.565, 0.6, 0.72, 0.76, 0.8, 0.845, 0.87, 0.895, 0.918, 0.96, 0.975, 0.984, 0.99, 0.995, 0.998, 1.0, 1.0],
    [0.56, 0.562, 0.575, 0.63, 0.67, 0.72, 0.77, 0.82, 0.86, 0.89, 0.93, 0.955, 0.97, 0.98, 0.985, 0.99, 0.99, 0.99],
    [0.56, 0.56, 0.567, 0.6, 0.625, 0.66, 0.71, 0.76, 0.8, 0.84, 0.9, 0.93, 0.95, 0.965, 0.975, 0.982, 0.985, 0.985],
    [0.56, 0.56, 0.563, 0.585, 0.6, 0.63, 0.67, 0.72, 0.76, 0.8, 0.87, 0.91, 0.94, 0.96, 0.975, 0.985, nan, nan],
    [0.558, 0.558, 0.56, 0.572, 0.582, 0.598, 0.62, 0.65, 0.69, 0.73, 0.79, 0.86, 0.905, 0.93, 0.945, 0.955, 0.966, 0.974],
]
f_drops = [f_drop_fast, f_drop_med, f_drop_fast, f_drop_slow, f_drop_med]
f_obs = [
    (0, 1.27), (0, 1.25), (0, 1.232), (0, 1.213), (0, 1.18), (0, 1.17), (0, 1.094), (0, 1.056),
    (0, 1.03), (0, 0.993), (0, 0.763),
    (0.5, 1.17), (1, 1.15), (1.5, 1.16), (1, 1.08), (1.2, 1.03), (1.5, 1.005), (1.8, 0.99), (2, 0.93),
    (2.6, 0.89), (3.1, 0.83), (3.7, 0.78), (4.2, 0.74),
    (0.3, 0.98), (0.6, 0.96), (0.9, 0.93), (1.2, 0.89), (1.5, 0.85), (1.8, 0.81), (2.1, 0.77),
    (2.4, 0.73), (2.7, 0.7), (3, 0.68), (3.4, 0.66),
    (0.5, 1.0), (1, 0.97), (1.5, 0.94), (2, 0.9), (2.5, 0.84), (3, 0.79), (3.5, 0.74), (4, 0.7),
    (4.5, 0.67), (5, 0.65), (5.5, 0.63),
    (2, 0.97), (2.5, 0.93), (3, 0.89), (3.5, 0.85), (4, 0.82), (4.5, 0.79), (5, 0.76), (5.5, 0.73),
    (6, 0.71), (6.5, 0.69), (7, 0.67),
    (5.4, 0.49), (5.8, 0.5), (6.2, 0.505), (6.6, 0.51), (7, 0.52), (7.5, 0.525), (8, 0.53), (8.5, 0.54),
    (9, 0.545), (9.5, 0.53), (10, 0.53), (10.5, 0.54), (11, 0.55), (12, 0.55),
    (15.5, 0.585), (16, 0.58), (17, 0.58), (17.5, 0.58), (18, 0.58), (18.5, 0.585), (21, 0.565),
    (21.5, 0.565),
    (6, 0.64), (7, 0.645), (8, 0.65), (9, 0.648), (10, 0.65), (11, 0.652), (12, 0.65), (13, 0.645),
    (14, 0.65), (15, 0.648), (16, 0.652), (17, 0.655), (18, 0.65), (19, 0.648), (20, 0.65), (21, 0.645),
    (22, 0.65), (23, 0.655), (24, 0.66), (25, 0.66), (26, 0.655), (27, 0.65), (28, 0.64),
    (8, 0.6), (9, 0.6), (10, 0.61), (11, 0.62), (12, 0.625), (13, 0.63), (14, 0.635), (15, 0.63),
    (16, 0.625), (17, 0.63), (18, 0.635), (19, 0.63), (20, 0.625), (21, 0.63), (22, 0.635), (23, 0.63),
    (24, 0.625), (25, 0.62), (26, 0.615), (27, 0.62), (28, 0.625), (29, 0.62),
    (10, 0.58), (12, 0.6), (14, 0.61), (16, 0.6), (18, 0.61), (20, 0.6), (22, 0.59), (24, 0.6),
    (26, 0.6), (28, 0.61), (30, 0.6), (32, 0.61), (34, 0.62),
    (9.5, 0.625), (11.5, 0.64), (13.5, 0.62), (15.5, 0.64), (17.5, 0.66), (19.5, 0.64), (21.5, 0.62),
    (23.5, 0.645), (25.5, 0.64), (27.5, 0.63),
    (27, 0.68), (28, 0.7), (29, 0.72), (30, 0.75), (31, 0.79), (32, 0.83), (33, 0.87), (34, 0.9),
    (35, 0.92), (36, 0.94), (37, 0.95), (38, 0.96), (39, 0.97), (40, 0.99), (41, 1.0), (42, 1.02),
    (29, 0.65), (30, 0.68), (31, 0.72), (32, 0.76), (33, 0.8), (34, 0.84), (35, 0.87), (36, 0.9),
    (37, 0.93), (38, 0.94), (39, 0.95), (40, 0.97), (41, 0.98), (42, 1.0),
    (31, 0.63), (32, 0.66), (33, 0.7), (34, 0.74), (35, 0.78), (36, 0.82), (37, 0.85), (38, 0.88),
    (39, 0.9), (40, 0.92), (41, 0.94), (42, 0.96),
    (33.9, 0.99), (34.4, 1.055), (34.9, 1.06), (35.5, 1.075),
    (34, 0.68), (34.5, 0.7), (35, 0.72), (35.5, 0.73), (36, 0.75), (36.5, 0.76), (37, 0.77),
    (37.5, 0.78), (38, 0.8), (38.5, 0.83), (39, 0.86), (39.5, 0.88), (40, 0.9), (40.5, 0.92), (41, 0.94),
    (33, 0.63), (34, 0.64), (35, 0.66), (36, 0.68), (37, 0.7), (38, 0.72), (38.5, 0.76),
    (43, 1.04), (44, 1.035), (45, 1.03), (46, 1.025), (47, 1.02), (48, 1.03), (49, 1.04), (50, 1.035),
    (51, 1.03), (52, 1.03), (53, 1.03), (54, 1.025), (55, 1.02), (56, 1.02), (57, 1.025), (58, 1.03),
    (59, 1.01), (60, 1.02),
    (44.6, 1.04), (45.5, 1.06), (46.5, 1.05), (48, 1.06), (49, 1.06), (50, 1.07), (51, 1.06), (52, 1.05),
    (54, 1.09), (54.5, 1.09), (55.5, 1.09), (56.5, 1.1), (57, 1.11), (57.5, 1.1), (58, 1.12),
    (58.5, 1.13), (59, 1.1), (59.5, 1.17), (60, 1.175), (60, 1.11),
    (42, 0.99), (43, 0.98), (44, 0.99), (45, 1.0), (46, 0.99), (47, 1.0),
]

#*******************************************************************************

BAND = '#a4b6da'
W, H = 940, 1225

fig01 = plt.figure(figsize=(W / 100, H / 100), dpi=100)


def add_px_axes(x0, y0, x1, y1):
    return fig01.add_axes([x0 / W, 1 - y1 / H, (x1 - x0) / W, (y1 - y0) / H])


panels = [
    ('A', (48, 100, 455, 363), (8, 80), a_hi_t, a_hi, a_lo_t, a_lo, a_drops, a_rise, a_obs),
    ('B', (528, 89, 928, 362), (478, 70), b_hi_t, b_hi, b_lo_t, b_lo, b_drops, b_rise, b_obs),
    ('C', (48, 509, 455, 772), (8, 492), c_hi_t, c_hi, c_lo_t, c_lo, c_drops, c_rise, c_obs),
    ('D', (527, 499, 927, 772), (478, 480), d_hi_t, d_hi, d_lo_t, d_lo, d_drops, d_rise, d_obs),
    ('E', (48, 917, 458, 1187), (8, 897), e_hi_t, e_hi, e_lo_t, e_lo, e_drops, e_rise, e_obs),
    ('F', (529, 922, 932, 1187), (478, 905), f_hi_t, f_hi, f_lo_t, f_lo, f_drops, f_rise, f_obs),
]

curve_t = np.array(curve_t_drop + curve_t_rise)

for letter, box, lpos, hi_t, hi, lo_t, lo, drops, rises, obs in panels:
    ax = add_px_axes(*box)

    # prediction interval band
    px = np.concatenate([hi_t, lo_t[::-1]])
    py = np.concatenate([hi, lo[::-1]])
    ax.fill(px, py, color=BAND, lw=0, zorder=1)

    # population prediction curves
    for d, r in zip(drops, rises):
        ax.plot(curve_t, np.array(d + r), color='black', lw=1.0, zorder=2)

    # observations
    ob = np.array(obs)
    ax.plot(ob[:, 0], ob[:, 1], ls='', marker='o', ms=3.5, mfc='none', mec='black',
            mew=0.8, zorder=3, clip_on=False)

    ax.set_xlim(-5, 60)
    ax.set_ylim(0.4, 1.4)
    ax.set_xticks(np.arange(0, 61, 10))
    ax.set_yticks([0.4, 0.6, 0.8, 1.0, 1.2, 1.4])
    ax.set_yticklabels(['0.4', '0.6', '0.8', '1.0', '1.2', '1.4'])
    for s in ['top', 'right']:
        ax.spines[s].set_visible(False)
    for s in ['left', 'bottom']:
        ax.spines[s].set_linewidth(1.3)
    ax.tick_params(direction='out', length=3, width=1.0, labelsize=8, pad=2,
                   labelcolor='#222222')
    ax.set_ylabel('ApEn', fontsize=9.5, fontweight='bold', labelpad=4)
    ax.set_xlabel('Time (min)', fontsize=10.5, fontweight='bold', labelpad=1)

    fig01.text(lpos[0] / W, 1 - lpos[1] / H, letter, fontsize=13, ha='left', va='center')

    if letter == 'A':
        hnd = [Line2D([], [], color='black', lw=1.0),
               Line2D([], [], ls='', marker='o', ms=3.5, mfc='none', mec='black', mew=0.8)]
        ax.legend(hnd, ['Population prediction', 'Observation'], loc='upper left',
                  bbox_to_anchor=(0.578, 1.015), frameon=False, fontsize=8.6,
                  handlelength=0.8, handletextpad=0.45, labelspacing=0.85, borderaxespad=0)

title_y = [18, 430, 847]
for dose, ty in zip(dose_titles, title_y):
    fig01.text(517 / W, 1 - ty / H,
               r'$\mathbf{%s\ mg{\cdot}kg^{-1}{\cdot}min^{-1}}$' % dose,
               fontsize=16.5, ha='center', va='center')

plt.savefig('out.png', dpi=100)
plt.close()
